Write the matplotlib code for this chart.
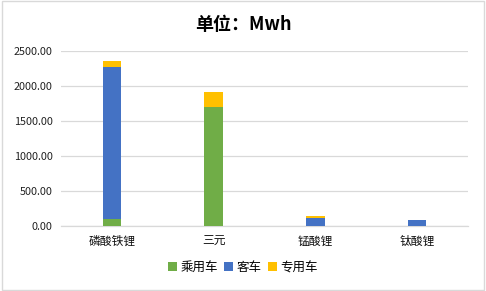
import matplotlib
matplotlib.use('Agg')
import matplotlib.pyplot as plt
import numpy as np

plt.rcParams['font.family'] = ['Noto Sans CJK SC', 'DejaVu Sans']

categories = ['磷酸铁锂', '三元', '锰酸锂', '钛酸锂']
series_names = ['乘用车', '客车', '专用车']
passenger = [100, 1700, 0, 0]
bus = [2170, 0, 115, 85]
special = [85, 215, 30, 0]
colors = ['#70AD47', '#4472C4', '#FFC000']

fig = plt.figure(figsize=(4.86, 2.91), dpi=100)
ax = fig.add_axes([0.1255, 0.2234, 0.8375, 0.6003])

x = np.arange(len(categories))
bottom = np.zeros(len(categories))
handles = []
for vals, name, c in zip([passenger, bus, special], series_names, colors):
    h = ax.bar(x, vals, width=0.18, bottom=bottom, color=c, label=name, zorder=3)
    handles.append(h)
    bottom += np.array(vals)

ax.set_xlim(-0.5, len(categories) - 0.5)
ax.set_ylim(0, 2500)
ax.set_yticks(np.arange(0, 2501, 500))
ax.set_yticklabels(['%.2f' % v for v in np.arange(0, 2501, 500)], fontsize=7.8, color='#222222')
ax.set_xticks(x)
ax.set_xticklabels(categories, fontsize=8.5, color='#111111')
ax.tick_params(length=0, pad=6)
ax.yaxis.grid(True, color='#d9d9d9', linewidth=0.9, zorder=0)
for s in ['left', 'right', 'top']:
    ax.spines[s].set_visible(False)
ax.spines['bottom'].set_color('#d9d9d9')
ax.spines['bottom'].set_linewidth(0.9)

fig.suptitle('单位：Mwh', x=0.5, y=0.95, fontsize=13, fontweight='bold')

fig.legend(handles=handles, labels=series_names, loc='center', bbox_to_anchor=(0.5, 0.08),
           ncol=3, frameon=False, fontsize=9, handlelength=0.7, handleheight=0.7,
           handletextpad=0.3, columnspacing=0.5)

fig.patches.append(plt.Rectangle((0.004, 0.004), 0.992, 0.992, transform=fig.transFigure,
                                 fill=False, edgecolor='#d9d9d9', linewidth=1))

fig.savefig('out.png', dpi=100)
